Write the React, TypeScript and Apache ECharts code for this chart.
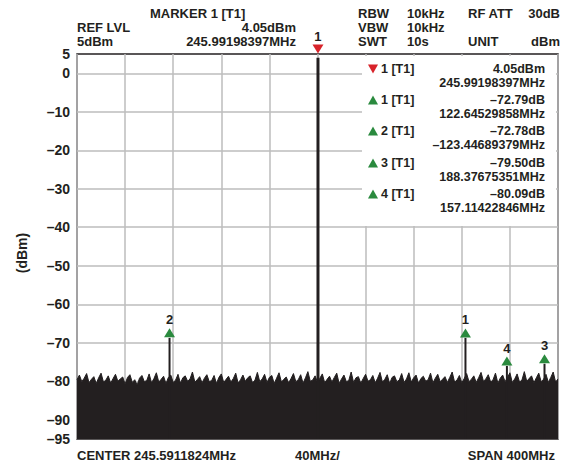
import React, { useEffect, useRef } from "react";
import * as echarts from "echarts";

const centerMHz = 245.5911824;
const spanMHz = 400;
const divMHz = 40;
const refLevelDbm = 5;
const bottomDbm = -95;
const yLabelValues = [5, 0, -10, -20, -30, -40, -50, -60, -70, -80, -90, -95];
const yGridValues = [0, -10, -20, -30, -40, -50, -60, -70, -80, -90];

const refMarkerName = "1";
const refMarkerDbm = 4.05;
const refMarkerMHz = 245.99198397;

const markerNames = ["1", "2", "3", "4"];
const markerDeltaDb = [-72.79, -72.78, -79.5, -80.09];
const markerDeltaMHz = [122.64529858, -123.44689379, 188.37675351, 157.11422846];

const noiseStartMHz = -200; // offset from center
const noiseStepMHz = 2;
const noiseLevels = [
  -79.6, -78.4, -80.1, -79.2, -78.0, -80.4, -79.5, -78.8, -80.6, -79.1, -77.9, -80.2, -79.7, -78.6, -80.5, -79.3, -78.2, -80.0, -79.4, -78.9,
  -80.7, -79.0, -78.3, -80.3, -79.6, -81.0, -79.2, -78.5, -80.1, -79.8, -78.1, -80.4, -79.3, -77.8, -80.2, -79.5, -78.7, -80.6, -79.0, -78.4,
  -80.3, -79.7, -78.2, -80.5, -79.1, -78.6, -80.0, -79.4, -77.6, -80.2, -79.6, -78.8, -80.4, -79.2, -78.3, -80.1, -79.8, -78.5, -80.6, -79.0,
  -78.1, -80.3, -79.5, -78.7, -80.2, -79.3, -77.9, -80.5, -79.6, -78.4, -80.0, -79.1, -78.6, -80.4, -79.7, -77.7, -80.1, -79.4, -78.2, -80.3,
  -79.0, -78.5, -80.6, -79.2, -77.8, -80.2, -79.5, -78.9, -80.4, -79.3, -78.0, -80.1, -79.6, -78.3, -80.5, -79.1, -77.5, -80.0, -79.7, -78.6,
  -80.3, -79.2, -78.1, -80.4, -79.5, -78.7, -80.2, -79.0, -77.9, -80.6, -79.4, -78.4, -80.1, -79.8, -77.6, -80.3, -79.1, -78.8, -80.5, -79.3,
  -78.2, -80.0, -79.6, -78.5, -80.4, -79.2, -77.7, -80.2, -79.5, -78.3, -80.6, -79.0, -78.6, -80.1, -79.7, -78.0, -80.3, -79.4, -77.8, -80.2,
  -79.1, -78.4, -80.5, -79.3, -78.7, -80.0, -79.6, -77.9, -80.4, -79.2, -78.2, -80.1, -79.5, -78.8, -80.3, -79.0, -77.6, -80.2, -79.7, -78.5,
  -80.4, -79.3, -78.0, -80.1, -79.5, -78.6, -80.3, -79.1, -77.7, -80.0, -79.4, -78.3, -80.2, -79.6, -77.9, -80.5, -79.2, -78.4, -80.1, -79.0,
  -77.8, -80.3, -79.4, -78.1, -80.2, -79.7, -77.5, -80.0, -79.3, -78.6, -80.4, -79.1, -77.9, -80.1, -79.5, -78.2, -80.3, -79.0, -77.6, -80.2,
  -79.4,
];

const INK = "#231f20";
const GREEN = "#2a8a3e";
const RED = "#d8232a";
const FONT = "'Liberation Sans', Arial, Helvetica, sans-serif";

const dash = (v: number, d = 2) => {
  const s = Math.abs(v).toFixed(d);
  return v < 0 ? "\u2013" + s : s;
};

export default function App() {
  const ref = useRef<HTMLDivElement>(null);
  useEffect(() => {
    const chart = echarts.init(ref.current!, null, { renderer: "svg" });
    const refOff = refMarkerMHz - centerMHz;
    const markerOff = markerDeltaMHz.map((d) => refOff + d);
    const markerLevel = markerDeltaDb.map((d) => refMarkerDbm + d);

    const noiseData = noiseLevels.map((v, i) => [noiseStartMHz + i * noiseStepMHz, v]);

    const spikeSeries: any[] = [
      {
        type: "line",
        data: [[refOff, bottomDbm], [refOff, refMarkerDbm]],
        symbol: "none",
        lineStyle: { color: INK, width: 3 },
        z: 3,
      },
      ...markerOff.map((x, i) => ({
        type: "line",
        data: [[x, bottomDbm], [x, markerLevel[i]]],
        symbol: "none",
        lineStyle: { color: INK, width: 2 },
        z: 3,
      })),
    ];

    const txt = (text: string, x: number, y: number, align = "left", size = 13) => ({
      type: "text",
      x,
      y,
      z: 20,
      style: {
        text,
        fill: INK,
        font: `bold ${size}px ${FONT}`,
        textAlign: align,
        textVerticalAlign: "middle",
      },
    });

    const rowY = [69, 100, 131, 163, 194];
    const legendRows: any[] = [];
    const labels = [refMarkerName, ...markerNames];
    const vals = [dash(refMarkerDbm) + "dBm", ...markerDeltaDb.map((d) => dash(d) + "dB")];
    const freqs = [refMarkerMHz.toFixed(8) + "MHz", ...markerDeltaMHz.map((d) => dash(d, 8) + "MHz")];
    labels.forEach((l, i) => {
      const y = rowY[i];
      if (i === 0) {
        legendRows.push({
          type: "polygon",
          z: 20,
          shape: { points: [[368, y - 4.5], [378, y - 4.5], [373, y + 4.5]] },
          style: { fill: RED },
        });
      } else {
        legendRows.push({
          type: "polygon",
          z: 20,
          shape: { points: [[368, y + 4.5], [378, y + 4.5], [373, y - 4.5]] },
          style: { fill: GREEN },
        });
      }
      legendRows.push(txt(l + " [T1]", 381, y, "left", 12.5));
      legendRows.push(txt(vals[i], 545, y, "right", 12.5));
      legendRows.push(txt(freqs[i], 545, y + 13.5, "right", 12.5));
    });

    const markerLabel = {
      show: true,
      position: "top",
      distance: 2,
      formatter: (p: any) => p.name,
      color: INK,
      opacity: 1,
      textBorderWidth: 0,
      fontWeight: 700,
      fontSize: 13,
      fontFamily: FONT,
    };

    chart.setOption({
      animation: false,
      grid: {
        left: 77,
        top: 54,
        right: 8,
        bottom: 27,
        show: true,
        borderColor: INK,
        borderWidth: 1.5,
        backgroundColor: "#fff",
      },
      xAxis: {
        type: "value",
        min: -spanMHz / 2,
        max: spanMHz / 2,
        interval: divMHz,
        axisLabel: { show: false },
        axisTick: { show: false },
        axisLine: { show: false },
        splitLine: { show: true, lineStyle: { color: "#bdbdbd", width: 1.5 } },
      },
      yAxis: {
        type: "value",
        min: bottomDbm,
        max: refLevelDbm,
        axisLine: { show: false },
        axisTick: { show: false, customValues: yGridValues },
        axisLabel: {
          customValues: yLabelValues,
          color: INK,
          fontWeight: "bold",
          fontSize: 14,
          fontFamily: FONT,
          margin: 7,
          formatter: (v: number) => dash(v, 0),
        },
        splitLine: { show: true, lineStyle: { color: "#bdbdbd", width: 1.5 } },
      },
      series: [
        {
          type: "line",
          data: noiseData,
          symbol: "none",
          lineStyle: { color: INK, width: 1 },
          areaStyle: { color: INK, opacity: 1, origin: "start" },
          z: 2,
        },
        ...spikeSeries,
        {
          type: "scatter",
          clip: false,
          z: 5,
          data: markerOff.map((x, i) => ({
            value: [x, markerLevel[i]],
            name: markerNames[i],
          })),
          symbol: "triangle",
          symbolSize: [11, 9],
          symbolOffset: [0, -5],
          itemStyle: { color: GREEN, opacity: 1 },
          label: markerLabel,
        },
        {
          type: "scatter",
          clip: false,
          z: 5,
          data: [{ value: [refOff, refLevelDbm], name: refMarkerName }],
          symbol: "triangle",
          symbolRotate: 180,
          symbolSize: [11, 9],
          symbolOffset: [0, -5],
          itemStyle: { color: RED, opacity: 1 },
          label: markerLabel,
        },
      ],
      graphic: [
        {
          type: "rect",
          z: 15,
          shape: { x: 362, y: 56, width: 194, height: 170 },
          style: { fill: "#fff" },
        },
        ...legendRows,
        txt("MARKER 1 [T1]", 150, 13),
        txt("REF LVL", 77, 27),
        txt("5dBm", 77, 41),
        txt(dash(refMarkerDbm) + "dBm", 296, 27, "right"),
        txt(refMarkerMHz.toFixed(8) + "MHz", 296, 41, "right"),
        txt("RBW", 358, 13),
        txt("10kHz", 407, 13),
        txt("RF ATT", 468, 13),
        txt("30dB", 560, 13, "right"),
        txt("VBW", 358, 27),
        txt("10kHz", 407, 27),
        txt("SWT", 358, 41),
        txt("10s", 407, 41),
        txt("UNIT", 468, 41),
        txt("dBm", 560, 41, "right"),
        txt("CENTER " + centerMHz.toFixed(7) + "MHz", 77, 455),
        txt(divMHz + "MHz/", 295, 455),
        txt("SPAN " + spanMHz + "MHz", 555, 455, "right"),
        {
          type: "text",
          x: 22,
          y: 253,
          rotation: Math.PI / 2,
          z: 20,
          style: {
            text: "(dBm)",
            fill: INK,
            font: `bold 14px ${FONT}`,
            textAlign: "center",
            textVerticalAlign: "middle",
          },
        },
      ],
    });
    return () => chart.dispose();
  }, []);
  return (
    <div
      ref={ref}
      style={{ position: "fixed", left: 0, top: 0, width: 566, height: 466, background: "#fff" }}
    />
  );
}
